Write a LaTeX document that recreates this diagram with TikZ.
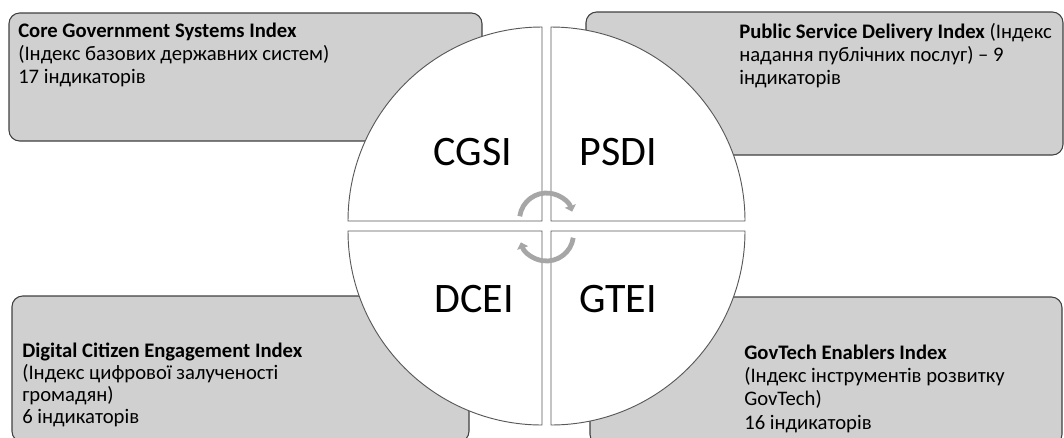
\documentclass[tikz,border=0pt]{standalone}
\usepackage{fontspec}
\setmainfont{Carlito}
\usetikzlibrary{arrows.meta}
\definecolor{boxfill}{HTML}{D0D0D0}
\definecolor{boxline}{HTML}{404040}
\definecolor{ringline}{HTML}{595959}
\definecolor{cyclegray}{HTML}{A6A6A6}

\begin{document}
\begin{tikzpicture}[x=0.75pt, y=0.75pt,
    infobox/.style={draw=boxline, fill=boxfill, line width=0.8pt, rounded corners=8pt},
    quarter/.style={draw=ringline, fill=white, line width=0.7pt},
    boxtext/.style={inner sep=0pt, anchor=base west, align=left, font=\fontsize{15.5}{16.9}\selectfont},
    bigtag/.style={inner sep=0pt, anchor=base, font=\fontsize{31.5}{36}\selectfont},
    cyclearrow/.style={draw=cyclegray, line width=3.6pt, -{Triangle[length=4.5pt,width=8.5pt]}}]
    \useasboundingbox (0,0) rectangle (1064,-437);

    % grey boxes behind the circle
    \path[infobox] (9,-13) rectangle (482,-141);
    \path[infobox] (586,-12) rectangle (1063,-155);
    \path[infobox] (12,-296) rectangle (469,-442);
    \path[infobox] (590,-297) rectangle (1062,-445);

    % texts, placed at the baseline of their last line
    \node[boxtext] (cgsitext) at (18,-83) {\textbf{Core Government Systems Index}\\(Індекс базових державних систем)\\17 індикаторів};
    \node[boxtext] (psditext) at (739,-84) {\textbf{Public Service Delivery Index} (Індекс\\надання публічних послуг) – 9\\індикаторів};
    \node[boxtext, font=\fontsize{15.5}{16.3}\selectfont] (dceitext) at (22,-423) {\textbf{Digital Citizen Engagement Index}\\(Індекс цифрової залученості\\громадян)\\6 індикаторів};
    \node[boxtext, font=\fontsize{15.5}{17.5}\selectfont] (gteitext) at (744,-429) {\textbf{GovTech Enablers Index}\\(Індекс інструментів розвитку\\GovTech)\\16 індикаторів};

    % the four quarters
    \draw[quarter] (542,-221) -- (348,-221) arc[start angle=180, end angle=90, radius=194] -- cycle;
    \draw[quarter] (551,-221) -- (551,-27) arc[start angle=90, end angle=0, radius=194] -- cycle;
    \draw[quarter] (542,-231) -- (542,-425) arc[start angle=270, end angle=180, radius=194] -- cycle;
    \draw[quarter] (551,-231) -- (745,-231) arc[start angle=0, end angle=-90, radius=194] -- cycle;

    \node[bigtag] (cgsi) at (473,-165) {CGSI};
    \node[bigtag] (psdi) at (618,-165) {PSDI};
    \node[bigtag] (dcei) at (474,-312) {DCEI};
    \node[bigtag] (gtei) at (618,-312) {GTEI};

    % cycle arrows in the middle
    \coordinate (hub) at (546.5,-227);
    \draw[cyclearrow] (hub) ++(0,7) ++(172:27) arc[start angle=172, end angle=18, radius=27];
    \draw[cyclearrow] (hub) ++(0,-7) ++(-8:27) arc[start angle=-8, end angle=-162, radius=27];
\end{tikzpicture}
\end{document}
